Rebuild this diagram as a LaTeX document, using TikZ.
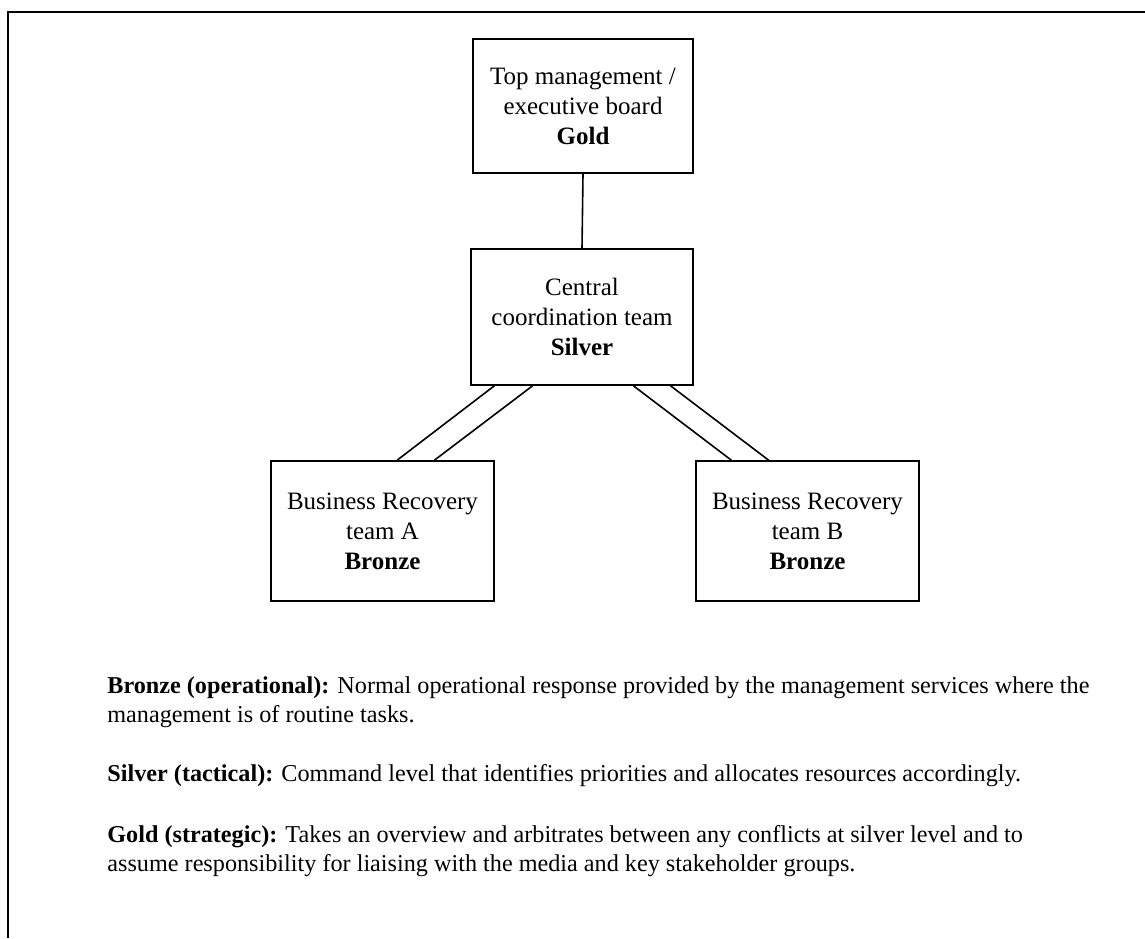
\documentclass[tikz,border=0pt]{standalone}
\usepackage{fontspec}
\setmainfont{Liberation Serif}
\usetikzlibrary{positioning,calc}

\begin{document}
\begin{tikzpicture}[x=0.5pt, y=-0.5pt,
    tier/.style={rectangle, draw=black, line width=0.8pt, inner sep=0pt,
        minimum width=111.5pt, align=center,
        font=\fontsize{12.5}{15}\selectfont},
    link/.style={line width=0.8pt, black},
    note/.style={anchor=base west, align=left, inner sep=0pt,
        font=\fontsize{12.1}{14.5}\selectfont}
]
    \useasboundingbox (0,0) rectangle (1145,938);
    \draw[line width=1.1pt] (8,938) -- (8,12) -- (1145,12);

    \node[tier, minimum width=110pt, minimum height=67pt] (gold) at (583,106)
        {Top management /\\ executive board\\ \textbf{Gold}};
    \node[tier, minimum width=111pt, minimum height=68pt] (silver) at (582,317)
        {Central\\ coordination team\\ \textbf{Silver}};
    \node[tier, minimum height=70pt] (teamA) at (382.5,531)
        {Business Recovery\\ team A\\ \textbf{Bronze}};
    \node[tier, minimum height=70pt] (teamB) at (807.5,531)
        {Business Recovery\\ team B\\ \textbf{Bronze}};

    \draw[link] (gold.south) -- (silver.north);

    \draw[link] ($(silver.south west)!0.108!(silver.south east)$) -- ($(teamA.north west)!0.565!(teamA.north east)$);
    \draw[link] ($(silver.south west)!0.279!(silver.south east)$) -- ($(teamA.north west)!0.731!(teamA.north east)$);
    \draw[link] ($(silver.south west)!0.730!(silver.south east)$) -- ($(teamB.north west)!0.161!(teamB.north east)$);
    \draw[link] ($(silver.south west)!0.896!(silver.south east)$) -- ($(teamB.north west)!0.327!(teamB.north east)$);

    % base anchor of a two-line note sits on its last line
    \node[note] (bronzenote) at (107,722)
        {\textbf{Bronze (operational):} Normal operational response provided by the management services where the\\
         management is of routine tasks.};
    \node[note] (silvernote) at (107,781)
        {\textbf{Silver (tactical):} Command level that identifies priorities and allocates resources accordingly.};
    \node[note] (goldnote) at (107,871)
        {\textbf{Gold (strategic):} Takes an overview and arbitrates between any conflicts at silver level and to\\
         assume responsibility for liaising with the media and key stakeholder groups.};
\end{tikzpicture}
\end{document}
